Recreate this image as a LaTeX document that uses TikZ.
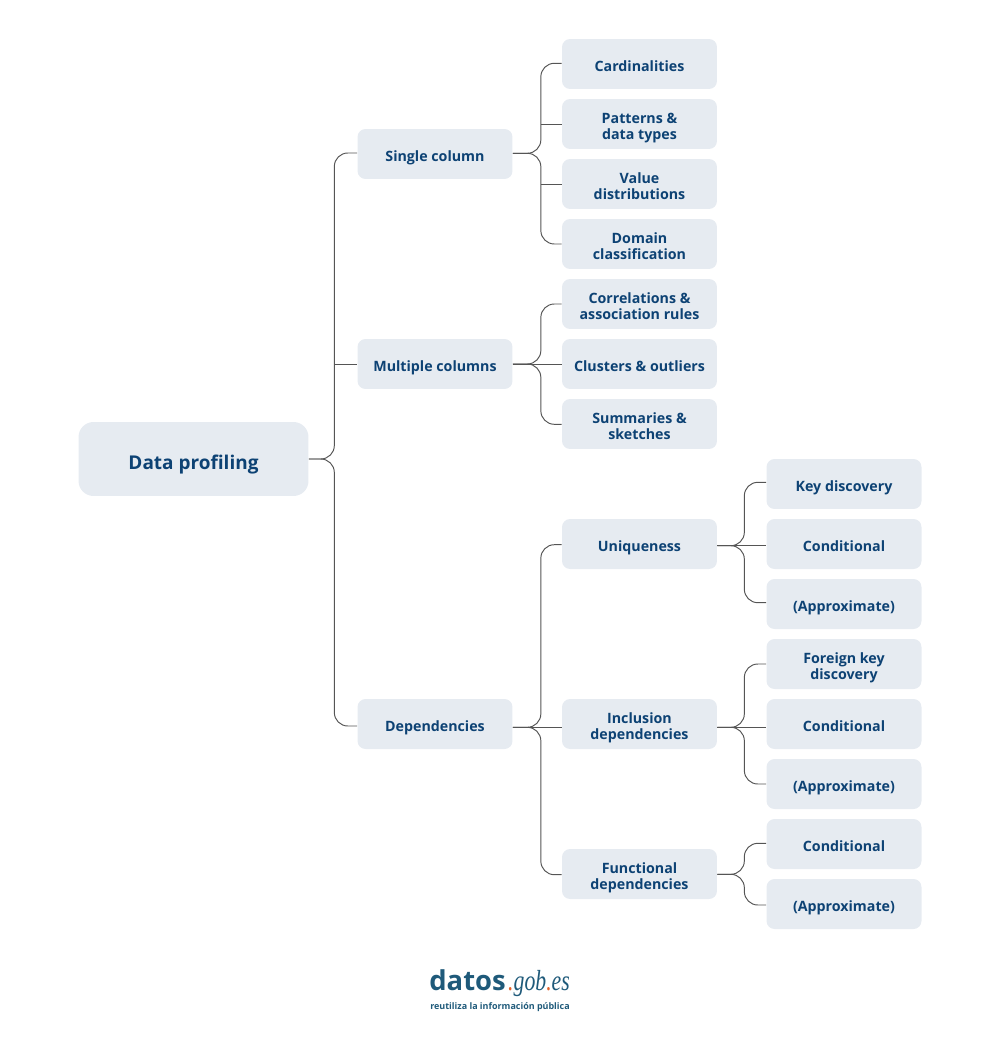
\documentclass[tikz,border=0pt]{standalone}
\usepackage{fontspec}
\setmainfont{Open Sans}
\newfontfamily\logofont[FakeStretch=.75]{Liberation Serif}
\usetikzlibrary{positioning}
\definecolor{boxfill}{HTML}{E6EBF1}
\definecolor{boxtext}{HTML}{0D4274}
\definecolor{linegray}{HTML}{555555}
\definecolor{logoblue}{HTML}{1F5A7A}
\definecolor{logodot}{HTML}{E2622B}
\newcommand{\lowstrut}{\rule[-2.2pt]{0pt}{2.2pt}}
\tikzset{
  item/.style={fill=boxfill, text=boxtext, rounded corners=.16cm, minimum width=3.1cm, minimum height=1cm,
    inner sep=0pt, align=center, font=\fontsize{8.1}{9.1}\selectfont\bfseries,
    execute at begin node={\rule{0pt}{10.2pt}}, execute at end node={\lowstrut}},
  pairitem/.style={item, execute at begin node={\rule{0pt}{20.3pt}}},
  rootitem/.style={item, minimum width=4.6cm, minimum height=1.48cm, rounded corners=.3cm,
    font=\fontsize{10.8}{13}\selectfont\bfseries, execute at begin node={\rule{0pt}{14.7pt}}},
  link/.style={draw=linegray, line width=.55pt, rounded corners=.27cm},
}
\begin{document}
\begin{tikzpicture}[x=.02cm, y=-.02cm]
\useasboundingbox (0,0) rectangle (1000,1037);

%root
\node[rootitem] (root) at (193.5,459) {Data profiling};

%first level
\node[item] (single) at (435,154) {Single column};
\node[item] (multiple) at (435,364) {Multiple columns};
\node[item] (depend) at (435,724) {Dependencies};

%second level
\node[item] (card) at (639.5,64) {Cardinalities};
\node[pairitem] (patterns) at (639.5,124) {Patterns \&\\data types};
\node[pairitem] (value) at (639.5,184) {Value\\distributions};
\node[pairitem] (domain) at (639.5,244) {Domain\\classification};
\node[pairitem] (correl) at (639.5,304) {Correlations \&\\association rules};
\node[item] (clusters) at (639.5,364) {Clusters \& outliers};
\node[pairitem] (summaries) at (639.5,424) {Summaries \&\\sketches};
\node[item] (unique) at (639.5,544) {Uniqueness};
\node[pairitem] (inclusion) at (639.5,724) {Inclusion\\dependencies};
\node[pairitem] (functional) at (639.5,874) {Functional\\dependencies};

%third level
\node[item] (keydisc) at (844,484) {Key discovery};
\node[item] (uniquecond) at (844,544) {Conditional};
\node[item] (uniqueappr) at (844,604) {(Approximate)};
\node[pairitem] (foreign) at (844,664) {Foreign key\\discovery};
\node[item] (inclcond) at (844,724) {Conditional};
\node[item] (inclappr) at (844,784) {(Approximate)};
\node[item] (funccond) at (844,844) {Conditional};
\node[item] (funcappr) at (844,904) {(Approximate)};

%where the lines leave the boxes, shift in px downwards
\foreach \a/\s/\w in {root/0/25.5,single/-.7/28,multiple/0/28,depend/3.3/28,unique/1.7/27,inclusion/3.3/27,functional/.3/27} {
\coordinate (\a out) at ([yshift=-\s*.02cm]\a.east);
\coordinate (\a bar) at ([xshift=\w*.02cm]\a out);
}

%outer branches with their bends
\foreach \a/\b/\s in {root/single/-1,root/depend/2,
  single/card/-.7,single/domain/0,
  multiple/correl/0,multiple/summaries/.3,
  depend/unique/.7,depend/functional/.7,
  unique/keydisc/-1.7,unique/uniqueappr/-1.3,
  inclusion/foreign/0,inclusion/inclappr/0,
  functional/funccond/-.7,functional/funcappr/1} {
\draw[link] (\a out) -- (\a bar) |- ([yshift=-\s*.02cm]\b.west);
}

%inner branches meet the bar square
\foreach \a/\b in {root/multiple,single/patterns,single/value} {
\draw[link] (\a bar |- \b.west) -- (\b.west);
}

%branches straight through
\foreach \a/\b in {multiple/clusters,depend/inclusion,unique/uniquecond,inclusion/inclcond} {
\draw[link] (\a out) -- (\a out -| \b.west);
}

%logo
\node[text=logoblue, inner sep=0pt, anchor=base west, font=\fontsize{15.6}{18}\selectfont\bfseries] (logoname) at (429,990) {datos};
\node[text=logoblue, inner sep=0pt, right=1pt of logoname.base east, anchor=base west,
  font=\logofont\itshape\fontsize{16.5}{18}\selectfont] (logodomain)
  {\textcolor{logodot}{.}gob\textcolor{logodot}{.}es};
\node[text=logoblue, inner sep=0pt, anchor=base, font=\fontsize{5.1}{6}\selectfont\bfseries] (logotag) at (500,1009) {reutiliza la información pública};
\end{tikzpicture}
\end{document}
